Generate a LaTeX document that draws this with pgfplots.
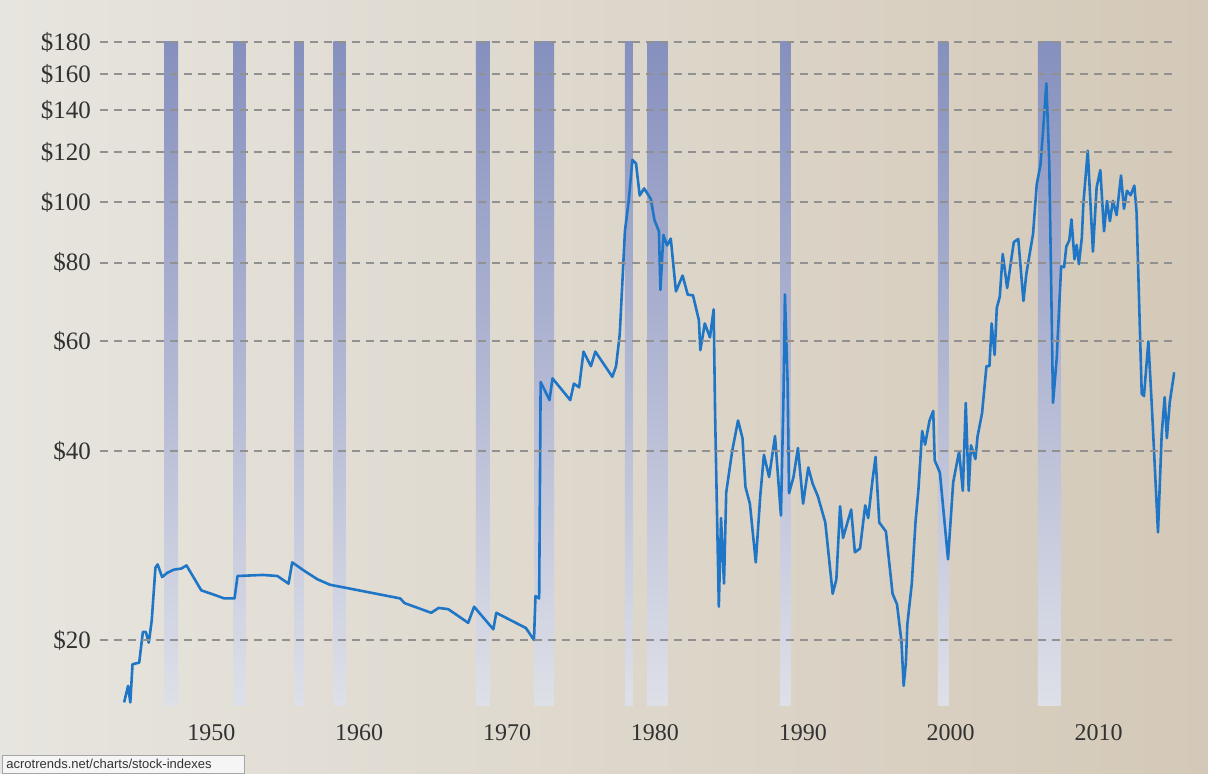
\documentclass[border=0pt]{standalone}
\usepackage{fontspec}
\setmainfont{Liberation Serif}
\newfontfamily\urlfont{Liberation Sans}
\usepackage{pgfplots}
\usepackage{pgfplotstable}
\pgfplotsset{compat=1.18}

\definecolor{paperL}{RGB}{231,229,223}
\definecolor{paperR}{RGB}{212,201,184}
\definecolor{oil}{RGB}{32,118,198}
\definecolor{rectop}{RGB}{134,144,190}
\definecolor{recbot}{RGB}{222,224,232}
\definecolor{gridc}{RGB}{145,145,145}
\definecolor{labc}{RGB}{50,50,50}

% crude oil price, inflation adjusted (read off the chart)
\pgfplotstableread{
year price
1946.13 15.9
1946.40 16.9
1946.55 15.9
1946.70 18.3
1947.15 18.4
1947.40 20.6
1947.60 20.6
1947.80 19.8
1948.00 21.5
1948.25 26.1
1948.40 26.4
1948.70 25.2
1949.05 25.6
1949.50 25.9
1950.00 26.0
1950.35 26.3
1951.35 24.0
1952.25 23.6
1952.90 23.3
1953.60 23.3
1953.80 25.3
1955.50 25.4
1956.50 25.3
1957.25 24.6
1957.50 26.6
1958.30 25.8
1959.20 25.0
1960.05 24.5
1962.40 23.9
1964.80 23.3
1965.10 22.9
1966.90 22.1
1967.40 22.5
1968.05 22.4
1969.40 21.3
1969.80 22.6
1971.10 20.8
1971.30 22.1
1973.30 20.9
1973.85 20.0
1973.95 23.5
1974.20 23.3
1974.30 51.6
1974.90 48.3
1975.10 52.3
1976.30 48.3
1976.55 51.3
1976.90 50.6
1977.20 57.7
1977.70 54.7
1978.00 57.7
1979.15 52.6
1979.40 54.7
1979.65 61.5
1980.00 89.8
1980.27 101.1
1980.50 116.7
1980.75 115.2
1981.00 102.4
1981.30 105.1
1981.75 101.1
1982.00 93.5
1982.30 89.8
1982.40 72.4
1982.60 88.6
1982.85 85.2
1983.10 87.4
1983.45 72.0
1983.90 76.3
1984.25 71.1
1984.60 71.0
1985.00 64.8
1985.10 58.0
1985.40 64.0
1985.75 60.8
1986.00 67.4
1986.10 45.6
1986.35 22.6
1986.50 31.3
1986.70 24.6
1986.85 34.4
1987.25 40.0
1987.65 44.8
1987.95 42.0
1988.15 35.1
1988.45 33.0
1988.85 26.6
1989.15 33.9
1989.40 39.5
1989.75 36.4
1990.15 42.3
1990.55 31.6
1990.72 48.5
1990.82 71.2
1991.00 51.6
1991.10 34.3
1991.40 36.4
1991.70 40.5
1992.05 33.0
1992.40 37.7
1992.70 35.5
1993.05 33.9
1993.55 30.8
1994.05 23.7
1994.30 25.0
1994.55 32.7
1994.75 29.1
1995.30 32.3
1995.55 27.6
1995.90 28.0
1996.25 32.8
1996.45 31.3
1996.75 36.1
1996.95 39.2
1997.20 30.8
1997.65 29.8
1998.10 23.7
1998.40 22.8
1998.70 19.9
1998.85 16.9
1999.00 18.4
1999.10 21.2
1999.40 24.6
1999.65 30.8
1999.85 34.8
2000.10 43.1
2000.30 41.0
2000.60 44.8
2000.85 46.4
2000.95 38.7
2001.30 37.0
2001.85 26.9
2002.20 35.7
2002.60 40.0
2002.85 34.6
2003.05 47.8
2003.25 34.6
2003.40 40.9
2003.70 38.9
2003.85 42.3
2004.15 46.0
2004.45 54.7
2004.65 54.7
2004.80 64.0
2005.00 57.0
2005.15 67.8
2005.35 70.6
2005.55 82.6
2005.85 72.9
2006.30 86.3
2006.60 87.3
2006.95 69.5
2007.15 76.9
2007.60 88.9
2007.85 106.7
2008.10 114.5
2008.25 127.2
2008.50 154.6
2008.70 115.0
2008.95 47.8
2009.20 56.3
2009.50 78.9
2009.70 78.7
2009.85 84.9
2010.05 86.8
2010.20 93.8
2010.40 81.0
2010.55 85.4
2010.70 79.6
2010.90 87.7
2011.00 99.2
2011.30 120.7
2011.65 83.3
2011.90 105.5
2012.15 112.4
2012.40 89.8
2012.60 100.4
2012.80 93.2
2013.00 100.4
2013.25 95.3
2013.55 110.2
2013.75 97.5
2013.95 104.2
2014.20 102.5
2014.45 106.2
2014.60 96.5
2014.95 49.4
2015.10 49.0
2015.40 59.9
2015.65 46.4
2016.05 29.7
2016.30 42.6
2016.50 48.8
2016.65 42.0
2016.85 48.0
2017.15 53.5
}\oiltable

% recession shading, start and end year
\newcommand\recession[2]{%
  \addplot[draw=none, top color=rectop, bottom color=recbot, forget plot]
    coordinates {(#1,15.75) (#1,180) (#2,180) (#2,15.75)} -- cycle;}

\begin{document}
\begin{tikzpicture}
\useasboundingbox (-50pt,-34pt) rectangle (554pt,352.5pt);
\fill[left color=paperL, right color=paperR] (-50pt,-34pt) rectangle (554pt,352.5pt);
\begin{axis}[
    axis on top,
    at={(0,0)}, anchor=south west,
    scale only axis,
    width=537.5pt, height=331.5pt,
    xmin=1944.5, xmax=2017.2,
    ymode=log, ymin=15.75, ymax=180,
    xtick={1950,1960,1970,1980,1990,2000,2010},
    xticklabels={1950,1960,1970,1980,1990,2000,2010},
    ytick={20,40,60,80,100,120,140,160,180},
    yticklabels={\$20,\$40,\$60,\$80,\$100,\$120,\$140,\$160,\$180},
    axis line style={draw=none},
    major tick length=0pt,
    ymajorgrids=true,
    grid style={gridc, line width=0.9pt, dash pattern=on 4pt off 3pt},
    tick label style={text=labc},
    yticklabel style={font=\fontsize{12.5}{14}\selectfont, xshift=-1pt},
    xticklabel style={font=\fontsize{12}{14}\selectfont, yshift=-6pt, xshift=15pt},
]
\recession{1948.83}{1949.79}
\recession{1953.50}{1954.37}
\recession{1957.62}{1958.29}
\recession{1960.29}{1961.12}
\recession{1969.92}{1970.87}
\recession{1973.87}{1975.21}
\recession{1980.00}{1980.54}
\recession{1981.50}{1982.87}
\recession{1990.50}{1991.21}
\recession{2001.17}{2001.87}
\recession{2007.92}{2009.46}

\addplot[oil, line width=1.3pt, line join=round] table[x=year, y=price] {\oiltable};
\end{axis}
\fill[white!92!gray, draw=gray!70] (-49pt,-34pt) rectangle (72pt,-25pt);
\node[anchor=west, inner sep=1pt, text=gray!40!black, font=\urlfont\fontsize{6.5}{7}\selectfont] at (-48pt,-29.5pt) {acrotrends.net/charts/stock-indexes};
\end{tikzpicture}
\end{document}
